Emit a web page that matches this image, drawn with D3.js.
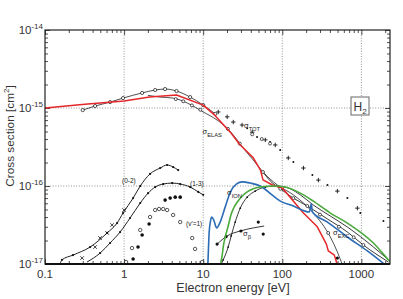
<!DOCTYPE html>
<html><head><meta charset="utf-8">
<script src="https://cdn.jsdelivr.net/npm/d3@7"></script>
<style>body{margin:0;background:#fff}text{font-family:"Liberation Sans",Arial,sans-serif}</style>
</head><body>
<svg id="c" width="403" height="299"></svg>
<script>
// ---- data (energy eV, cross section cm^2) ----
const xTicks=[0.1,1,10,100,1000];
const xTickLabels=["0.1","1","10","100","1000"];
const yTicks=[1e-17,1e-16,1e-15,1e-14];
const yTickExp=["-17","-16","-15","-14"];
const gridX=[1,10,100,1000];
const gridY=[1e-16,1e-15];

const redModel=[[0.1,1.0e-15],[0.32,1.12e-15],[1,1.23e-15],[2.1,1.38e-15],[4.6,1.47e-15],[10,1.09e-15],[14,8.1e-16],[22,4.9e-16],[29,3.4e-16],[43,2.3e-16],[53,1.6e-16],[57,1.2e-16],[75,1.03e-16],[100,9.4e-17],[185,4.5e-17],[277,3.0e-17],[361,1.8e-17],[382,1.47e-17],[455,1.3e-17],[500,0.95e-17]];
const blueModel=[[11.3,8e-18],[11.45,1.0e-17],[11.9,2.57e-17],[12.4,3.6e-17],[12.8,4.0e-17],[13.6,3.66e-17],[14.8,2.9e-17],[16.4,3.45e-17],[19,5.4e-17],[22.1,8.4e-17],[26.2,1.06e-16],[31.2,1.13e-16],[39.4,1.09e-16],[52.7,1.0e-16],[77,7.45e-17],[94.5,6.4e-17],[138,5.54e-17],[220,4.64e-17],[233,5.9e-17],[240,4.64e-17],[372,3.45e-17],[665,2.22e-17],[1190,1.47e-17],[2015,0.97e-17]];
const greenModel=[[16.5,8e-18],[16.7,1.0e-17],[17.4,1.3e-17],[17.9,1.65e-17],[19,2.22e-17],[20.7,3.07e-17],[22.6,4.38e-17],[24.7,5.4e-17],[26.9,6.2e-17],[31.2,7.45e-17],[36,8.4e-17],[43,9.2e-17],[52.7,9.7e-17],[77,1.0e-16],[109,9.7e-17],[169,8.1e-17],[247,6.4e-17],[405,4.5e-17],[665,3.35e-17],[1420,1.86e-17],[2330,1.06e-17],[2600,0.95e-17]];

const totLow=[[0.30,9.4e-16],[0.43,1.06e-15],[0.665,1.19e-15],[0.97,1.34e-15],[1.69,1.56e-15],[2.47,1.70e-15],[3.3,1.75e-15],[4.6,1.65e-15],[6.84,1.38e-15],[10,1.09e-15],[14.2,8.4e-16]];
const totPlus=[[15.5,8.9e-16],[20.1,7.7e-16],[24,6.6e-16],[31,6.05e-16],[41.7,4.9e-16],[61,3.9e-16],[81.5,3.36e-16],[119,2.29e-16],[185,1.7e-16],[286,1.19e-16],[497,8.6e-17],[890,5.2e-17]];
const totDots=[[36,5.5e-16],[48,4.25e-16],[70,3.66e-16],[94,2.9e-16],[138,2.03e-16],[240,1.38e-16],[372,1.03e-16],[665,7.0e-17],[970,4.5e-17],[1900,3.56e-17]];
const totOpen=[[41.7,4.6e-16],[55,4.0e-16],[70,3.5e-16]];

const elasLine=[[2.0,1.45e-15],[2.86,1.38e-15],[4.17,1.34e-15],[6.27,1.16e-15],[10,8.9e-16],[15,7.0e-16],[20.1,5.5e-16],[26.9,3.9e-16],[32,3.07e-16],[43,2.15e-16],[57,1.51e-16],[86.5,1.03e-16],[138,7.7e-17],[247,4.5e-17],[405,2.22e-17],[497,1.43e-17],[574,1.0e-17],[620,0.9e-17]];
const elasOpen=[[4.5,1.3e-15],[5.6,1.22e-15],[7.2,1.08e-15],[9.2,9.5e-16],[20.5,5.4e-16],[29,3.5e-16],[57,1.51e-16],[100,9.5e-17],[380,2.5e-17]];
const elasFilled=[[497,1.19e-17]];

const vib02=[[0.155,1.0e-17],[0.164,1.13e-17],[0.226,1.3e-17],[0.372,1.65e-17],[0.61,2.5e-17],[0.815,3.35e-17],[0.97,4.5e-17],[1.3,7.0e-17],[1.6,1.0e-16],[2.13,1.43e-16],[2.86,1.7e-16],[3.5,1.86e-16],[4.17,1.75e-16],[4.83,1.6e-16]];
const vib13=[[0.34,1.06e-17],[0.497,1.38e-17],[0.665,1.86e-17],[0.89,2.57e-17],[1.19,3.89e-17],[1.6,6.05e-17],[2.01,8.1e-17],[2.47,9.7e-17],[3.12,1.06e-16],[4.06,1.09e-16],[5.12,1.06e-16],[6.84,9.7e-17],[8.65,8.4e-17],[10,7.7e-17]];
const xMarks=[[0.294,1.19e-17],[0.43,1.65e-17],[0.497,2.15e-17],[0.61,2.5e-17],[0.705,3.16e-17],[1.0,4.92e-17]];
const v1Filled=[[1.30,1.16e-17],[1.50,1.65e-17],[1.69,2.35e-17],[2.07,3.26e-17],[3.3,6.6e-17],[3.82,7.0e-17],[4.43,7.2e-17],[5.12,7.2e-17]];
const v1Open=[[1.06,1.06e-17],[1.26,1.6e-17],[1.6,2.73e-17],[2.13,4.0e-17],[2.47,4.92e-17],[2.77,5.07e-17],[3.12,5.07e-17],[3.5,4.92e-17],[4.17,4.25e-17],[5.12,3.45e-17],[7.26,2.15e-17],[7.9,1.56e-17],[9.7,1.06e-17]];

const betaLine=[[15,1.8e-17],[20.1,2.29e-17],[29.4,2.65e-17],[43,2.9e-17],[59,3.07e-17]];
const betaDots=[[15,1.8e-17],[19.5,2.25e-17],[30,2.65e-17],[49.7,3.45e-17],[57.4,2.42e-17]];

const ionLine=[[16.9,1.0e-17],[17.9,1.13e-17],[20.7,1.65e-17],[22.6,2.29e-17],[25.4,3.45e-17],[29.4,5.2e-17],[36,7.2e-17],[45.5,8.6e-17],[61,9.7e-17],[86.5,1.0e-16],[126,9.2e-17],[169,7.7e-17],[247,5.7e-17],[405,4.12e-17],[665,2.98e-17],[1420,1.65e-17],[2200,1.13e-17]];
const ionDots=[[17.9,1.13e-17],[20.7,1.65e-17],[22.6,2.29e-17],[25.4,3.45e-17],[29.4,5.2e-17],[36,7.2e-17],[45.5,8.6e-17],[61,9.7e-17]];

const excLine=[[55.8,1.56e-16],[70.5,1.16e-16],[94.5,9.2e-17],[138,7.0e-17],[207,5.54e-17],[372,3.78e-17],[665,2.57e-17],[1060,1.75e-17],[2200,1.06e-17]];
const excOpen=[[94.5,9.2e-17],[138,7.0e-17],[207,5.54e-17],[300,4.3e-17],[520,3.0e-17],[800,2.2e-17],[1060,1.75e-17]];

// ---- drawing ----
const L=45,R=390,T=30,B=264;
const x=d3.scaleLog().domain([0.1,2300]).range([L,R]);
const y=d3.scaleLog().domain([1e-17,1e-14]).range([B,T]);
const svg=d3.select("#c");
svg.append("defs").append("clipPath").attr("id","clip").append("rect").attr("x",L).attr("y",T).attr("width",R-L).attr("height",B-T);

// grid
svg.append("g").selectAll("line").data(gridX).join("line")
  .attr("x1",d=>x(d)).attr("x2",d=>x(d)).attr("y1",T).attr("y2",B)
  .attr("stroke","#777").attr("stroke-width",0.8).attr("stroke-dasharray","1,1.6");
svg.append("g").selectAll("line").data(gridY).join("line")
  .attr("x1",L).attr("x2",R).attr("y1",d=>y(d)).attr("y2",d=>y(d))
  .attr("stroke","#777").attr("stroke-width",0.8).attr("stroke-dasharray","1,1.6");

// ticks
const xMinor=[],yMinor=[];
for(let e=-1;e<=3;e++)for(let k=2;k<=9;k++){const v=k*Math.pow(10,e);if(v<=2300)xMinor.push(v);}
for(let e=-17;e<=-15;e++)for(let k=2;k<=9;k++)yMinor.push(k*Math.pow(10,e));
function ax(gen,tr,vals,size){
  svg.append("g").attr("transform",tr).call(gen.tickValues(vals).tickSize(size).tickFormat(""))
    .call(g=>{g.select(".domain").remove();g.selectAll("line").attr("stroke","#222").attr("stroke-width",0.8);});
}
ax(d3.axisBottom(x),`translate(0,${B})`,xMinor,-3);
ax(d3.axisBottom(x),`translate(0,${B})`,xTicks,-5);
ax(d3.axisTop(x),`translate(0,${T})`,xMinor,-3);
ax(d3.axisTop(x),`translate(0,${T})`,xTicks,-5);
ax(d3.axisLeft(y),`translate(${L},0)`,yMinor,-3);
ax(d3.axisLeft(y),`translate(${L},0)`,yTicks,-5);
ax(d3.axisRight(y),`translate(${R},0)`,yMinor,-3);
ax(d3.axisRight(y),`translate(${R},0)`,yTicks,-5);

const plot=svg.append("g").attr("clip-path","url(#clip)");
const lin=d3.line().x(d=>x(d[0])).y(d=>y(d[1]));
const smooth=d3.line().x(d=>x(d[0])).y(d=>y(d[1])).curve(d3.curveMonotoneX);
function path(data,gen,color,w){plot.append("path").datum(data).attr("d",gen).attr("fill","none").attr("stroke",color).attr("stroke-width",w).attr("stroke-linejoin","round");}
function circles(data,r,fill,sw){plot.append("g").selectAll("circle").data(data).join("circle")
  .attr("cx",d=>x(d[0])).attr("cy",d=>y(d[1])).attr("r",r).attr("fill",fill).attr("stroke","#111").attr("stroke-width",sw);}
function plus(data,s){plot.append("g").selectAll("path").data(data).join("path")
  .attr("d",d=>{const px=x(d[0]),py=y(d[1]);return `M${px-s},${py}H${px+s}M${px},${py-s}V${py+s}`;}).attr("stroke","#111").attr("stroke-width",0.9);}
function cross(data,s){plot.append("g").selectAll("path").data(data).join("path")
  .attr("d",d=>{const px=x(d[0]),py=y(d[1]);return `M${px-s},${py-s}L${px+s},${py+s}M${px+s},${py-s}L${px-s},${py+s}`;}).attr("stroke","#111").attr("stroke-width",0.8);}

// black experimental/fit curves
path(totLow,smooth,"#222",0.8);
path(elasLine,smooth,"#222",0.8);
path(vib02,smooth,"#222",1.0);
path(vib13,smooth,"#222",1.0);
path(betaLine,smooth,"#222",0.9);
path(ionLine,smooth,"#222",0.9);
path(excLine,smooth,"#222",0.9);

circles(totLow,1.6,"#fff",0.7);
plus(totPlus,2.2);
circles(totDots,1.0,"#111",0);
circles(totOpen,1.5,"#fff",0.7);
circles(elasOpen,1.5,"#fff",0.7);
circles(elasFilled,1.6,"#111",0);
circles(vib02.slice(1),1.1,"#111",0);
circles(vib13.slice(1),1.1,"#111",0);
cross(xMarks,1.8);
circles(v1Filled,1.8,"#111",0);
circles(v1Open,1.7,"#fff",0.7);
circles(betaDots,1.6,"#111",0);
circles(ionDots,0.9,"#111",0);
circles(excOpen,1.5,"#fff",0.7);

// model curves
path(redModel,lin,"#e5262a",1.5);
path(blueModel,smooth,"#2b6cb5",1.6);
path(greenModel,smooth,"#4aab3c",1.6);

// frame
svg.append("rect").attr("x",L).attr("y",T).attr("width",R-L).attr("height",B-T).attr("fill","none").attr("stroke","#222").attr("stroke-width",1.2);
svg.append("line").attr("x1",L).attr("x2",R).attr("y1",B).attr("y2",B).attr("stroke","#111").attr("stroke-width",2);

// tick labels
svg.append("g").selectAll("text").data(xTicks).join("text")
  .attr("x",d=>x(d)).attr("y",278).attr("text-anchor","middle").attr("font-size",11.5).attr("fill","#333")
  .text((d,i)=>xTickLabels[i]);
const yl=svg.append("g").selectAll("text").data(yTicks).join("text")
  .attr("x",43).attr("y",d=>y(d)+4).attr("text-anchor","end").attr("fill","#333");
yl.append("tspan").attr("font-size",11.5).text("10");
yl.append("tspan").attr("font-size",8).attr("dy",-5).text((d,i)=>yTickExp[i]);

// axis titles
svg.append("text").attr("x",233).attr("y",292).attr("text-anchor","middle").attr("font-size",12.5).attr("fill","#333").text("Electron energy [eV]");
const yt=svg.append("text").attr("transform","translate(14,136) rotate(-90)").attr("text-anchor","middle").attr("font-size",11.8).attr("fill","#333");
yt.append("tspan").text("Cross section [cm");
yt.append("tspan").attr("font-size",8).attr("dy",-5).text("2");
yt.append("tspan").attr("dy",5).text("]");

// H2 box
svg.append("rect").attr("x",351).attr("y",97).attr("width",18).attr("height",18).attr("fill","#fff").attr("stroke","#666").attr("stroke-width",1);
const h2=svg.append("text").attr("x",353.5).attr("y",111).attr("font-size",12).attr("fill","#333");
h2.append("tspan").text("H");
h2.append("tspan").attr("font-size",8).attr("dy",3).text("2");

// curve labels
function sig(px,py,sub,fs){const t=svg.append("text").attr("x",px).attr("y",py).attr("font-size",fs||7.5).attr("fill","#222");
  t.append("tspan").text("σ");t.append("tspan").attr("font-size",5.8).attr("dy",2.5).text(sub);}
sig(244,128,"TOT");
sig(202.5,134,"ELAS");
sig(227,195,"ION");
sig(243,236,"β");
sig(333,235,"EXC");
function lab(px,py,t){svg.append("text").attr("x",px).attr("y",py).attr("font-size",6.5).attr("fill","#222").text(t);}
lab(122,183,"(0-2)");
lab(190,186,"(1-3)");
lab(186,226,"(v'=1)");
</script>
</body></html>
